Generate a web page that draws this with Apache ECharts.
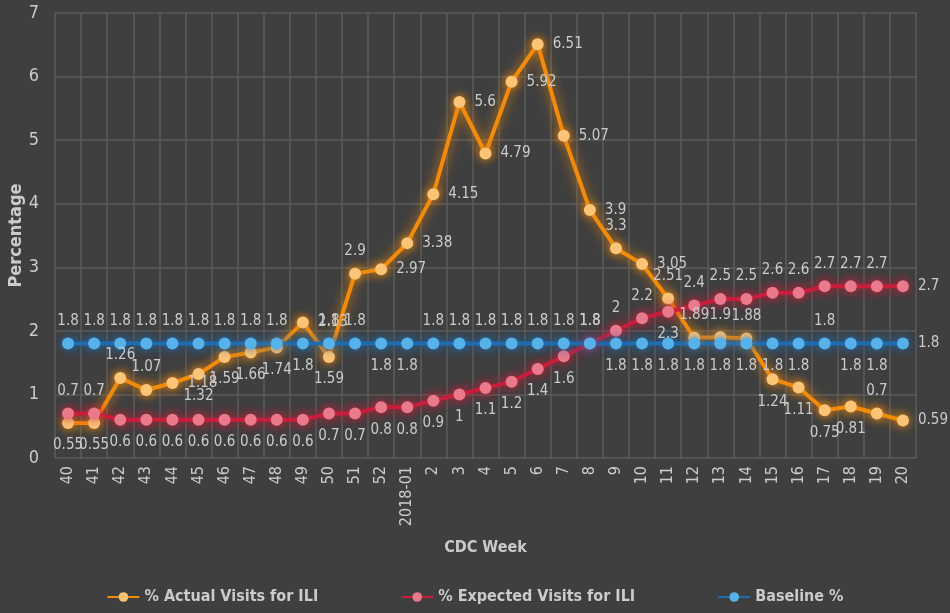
<!DOCTYPE html>
<html lang="en">
<head>
    <meta charset="utf-8">
    <title>ILI Visits</title>
    <script src="https://cdn.jsdelivr.net/npm/echarts@6/dist/echarts.min.js"></script>
    <style>
        html, body { margin: 0; padding: 0; background: #3f3f3f; }
        #main { width: 950px; height: 613px; }
    </style>
</head>
<body>
<div id="main"></div>
<script>
    // CDC weeks
    var weeks = ['40', '41', '42', '43', '44', '45', '46', '47', '48', '49', '50', '51', '52',
        '2018-01', '2', '3', '4', '5', '6', '7', '8', '9', '10', '11', '12', '13', '14', '15',
        '16', '17', '18', '19', '20'];
    var actual = [0.55, 0.55, 1.26, 1.07, 1.18, 1.32, 1.59, 1.66, 1.74, 2.13, 1.59, 2.9, 2.97,
        3.38, 4.15, 5.6, 4.79, 5.92, 6.51, 5.07, 3.9, 3.3, 3.05, 2.51, 1.89, 1.9, 1.88, 1.24,
        1.11, 0.75, 0.81, 0.7, 0.59];
    var expected = [0.7, 0.7, 0.6, 0.6, 0.6, 0.6, 0.6, 0.6, 0.6, 0.6, 0.7, 0.7, 0.8,
        0.8, 0.9, 1, 1.1, 1.2, 1.4, 1.6, 1.8, 2, 2.2, 2.3, 2.4, 2.5, 2.5, 2.6,
        2.6, 2.7, 2.7, 2.7, 2.7];
    var baseline = [1.8, 1.8, 1.8, 1.8, 1.8, 1.8, 1.8, 1.8, 1.8, 1.8, 1.8, 1.8, 1.8,
        1.8, 1.8, 1.8, 1.8, 1.8, 1.8, 1.8, 1.8, 1.8, 1.8, 1.8, 1.8, 1.8, 1.8, 1.8,
        1.8, 1.8, 1.8, 1.8, 1.8];
    var yTicks = [0, 7, 1];

    // where each data label sits (t = top, b = bottom, r = right, l = left)
    var actualPlace = 'bbttrbbbbrbtr' + 'rrrrrrrrtrttttbbbbtr';
    var expectedPlace = 'tt' + 'bbbbbbbbbbb' + 'bbbbbbb' + 'tttb' + 'tttttttt' + 'r';
    var baselinePlace = 'ttttttttt' + 'b' + 'tt' + 'bb' + 'ttttttt' + 'bbbbbbbb' + 't' + 'bb' + 'r';

    var FONT = "'DejaVu Sans Condensed', 'Liberation Sans', sans-serif";
    var LABEL_COLOR = '#cbcbcb';
    var POS = { t: 'top', b: 'bottom', r: 'right', l: 'left' };

    function withLabels(values, place) {
        return values.map(function (v, i) {
            return { value: v, label: { position: POS[place.charAt(i)] || 'top' } };
        });
    }

    function series(name, values, lineColor, dotColor, place) {
        return {
            name: name,
            type: 'line',
            data: withLabels(values, place),
            symbol: 'circle',
            symbolSize: 12,
            lineStyle: { color: lineColor, width: 4, shadowBlur: 12, shadowColor: lineColor },
            itemStyle: { color: dotColor, shadowBlur: 10, shadowColor: lineColor },
            label: {
                show: true,
                color: LABEL_COLOR,
                fontFamily: FONT,
                fontSize: 15,
                distance: 9
            },
            z: 3
        };
    }

    var myChart = echarts.init(document.getElementById('main'));
    var option = {
        backgroundColor: '#3f3f3f',
        animation: false,
        grid: { left: 55, right: 34, top: 13, bottom: 155, outerBoundsMode: 'none' },
        legend: {
            bottom: 3,
            itemGap: 82,
            itemWidth: 32,
            itemHeight: 12,
            textStyle: { color: LABEL_COLOR, fontFamily: FONT, fontSize: 16, fontWeight: 'bold' },
            data: ['% Actual Visits for ILI', '% Expected Visits for ILI', 'Baseline %']
        },
        xAxis: {
            type: 'category',
            data: weeks,
            boundaryGap: true,
            name: 'CDC Week',
            nameLocation: 'middle',
            nameGap: 82,
            nameMoveOverlap: false,
            nameTextStyle: { color: LABEL_COLOR, fontFamily: FONT, fontSize: 16, fontWeight: 'bold' },
            axisLine: { show: false },
            axisTick: { show: false },
            axisLabel: { rotate: 90, color: LABEL_COLOR, fontFamily: FONT, fontSize: 16, margin: 8, interval: 0 },
            splitLine: { show: true, interval: 0, lineStyle: { color: '#5c5c5c', width: 1.5 } }
        },
        yAxis: {
            type: 'value',
            min: yTicks[0],
            max: yTicks[1],
            interval: yTicks[2],
            name: 'Percentage',
            nameLocation: 'middle',
            nameGap: 30,
            nameMoveOverlap: false,
            nameTextStyle: { color: LABEL_COLOR, fontFamily: FONT, fontSize: 18, fontWeight: 'bold' },
            axisLine: { show: false },
            axisTick: { show: false },
            axisLabel: { color: LABEL_COLOR, fontFamily: FONT, fontSize: 18, margin: 16 },
            splitLine: { lineStyle: { color: '#5c5c5c', width: 1.5 } }
        },
        series: [
            series('% Actual Visits for ILI', actual, '#f28b0c', '#fcc477', actualPlace),
            series('% Expected Visits for ILI', expected, '#c81e3c', '#e87a8c', expectedPlace),
            series('Baseline %', baseline, '#1f6db2', '#57b2ea', baselinePlace)
        ]
    };
    myChart.setOption(option);
</script>
</body>
</html>
